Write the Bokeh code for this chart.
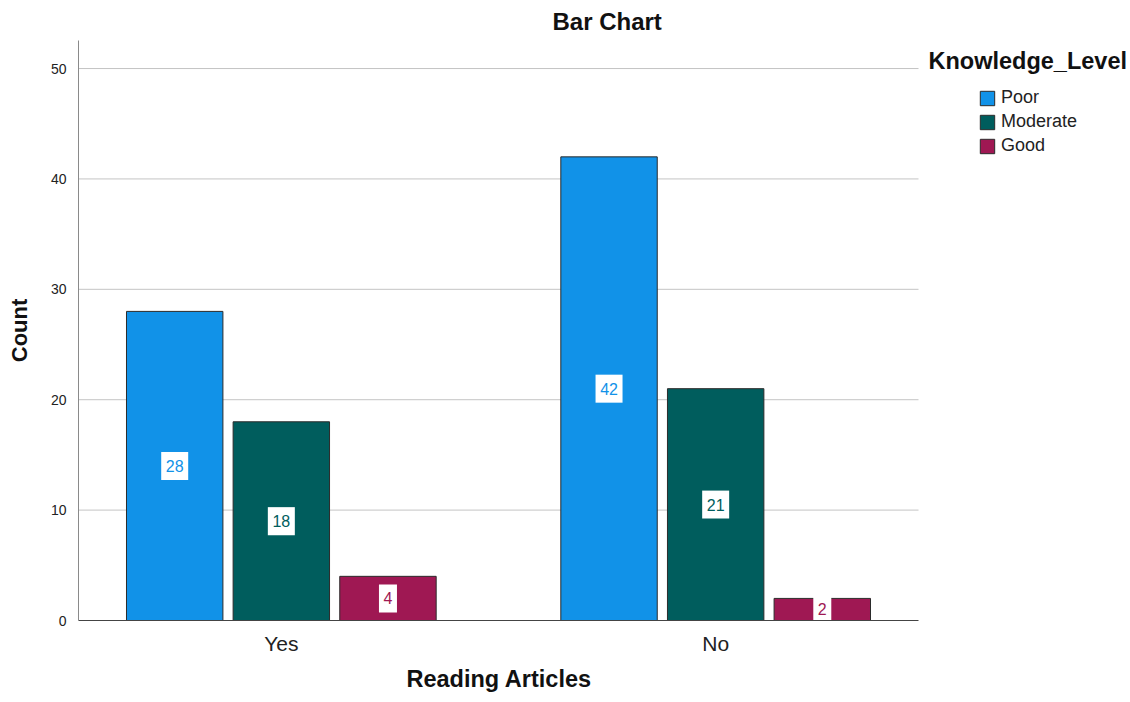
from bokeh.plotting import figure
from bokeh.models import (ColumnDataSource, Range1d, FixedTicker, Legend, LegendItem,
                          Label, Title)
from bokeh.core.properties import value
from bokeh.embed import file_html
from bokeh.resources import INLINE

# ---- data ----
categories = ["Yes", "No"]
levels = ["Poor", "Moderate", "Good"]
poor = [28, 42]
moderate = [18, 21]
good = [4, 2]
colors = ["#1192e8", "#005d5d", "#9f1853"]
y_ticks = [0, 10, 20, 30, 40, 50]
legend_title_text = "Knowledge_Level"

FONT = "Liberation Sans"

# plotting area for the bars: x in [-0.467, 1.467]; frame extends right to hold the legend
X0, X1 = -0.467, 1.467
PX_PER_UNIT = 840 / (X1 - X0)
FRAME_W = 1050
XR_END = X0 + FRAME_W / PX_PER_UNIT
Y_MAX = 52.54

p = figure(frame_width=FRAME_W, frame_height=580,
           min_border_left=78, min_border_top=0, min_border_right=0, min_border_bottom=30,
           output_backend="svg", toolbar_location=None,
           x_range=Range1d(X0, XR_END), y_range=Range1d(0, Y_MAX))
p.outline_line_color = None
p.background_fill_color = "white"

# grid lines restricted to the bar area
p.xgrid.grid_line_color = None
p.ygrid.grid_line_color = None
p.segment(x0=[X0] * (len(y_ticks) - 1), x1=[X1] * (len(y_ticks) - 1),
          y0=y_ticks[1:], y1=y_ticks[1:], line_color="#c4c4c4", line_width=1)

series = [poor, moderate, good]
offsets = [-0.2455, 0.0, 0.2455]
bar_w = 0.222
x_idx = list(range(len(categories)))

renderers = []
for lvl, vals, col, off in zip(levels, series, colors, offsets):
    xs = [i + off for i in x_idx]
    src = ColumnDataSource(dict(x=xs, top=vals, mid=[v / 2 for v in vals],
                                txt=[str(v) for v in vals],
                                bw=[9 + 9 * len(str(v)) for v in vals]))
    r = p.vbar(x="x", top="top", width=bar_w, source=src, fill_color=col,
               line_color="#2b2b2b", line_width=1)
    renderers.append((lvl, r))
    p.rect(x="x", y="mid", width="bw", height=28, width_units="screen",
           height_units="screen", source=src, fill_color="white", line_color=None)
    p.text(x="x", y="mid", text="txt", source=src, text_align="center",
           text_baseline="middle", text_color=col, text_font_size="16px",
           text_font=value(FONT))

# axes
p.xaxis.bounds = (X0, X1)
p.xaxis.ticker = FixedTicker(ticks=x_idx)
p.xaxis.major_label_overrides = {i: c for i, c in enumerate(categories)}
p.xaxis.major_label_text_font = FONT
p.xaxis.major_label_text_font_size = "21px"
p.xaxis.major_label_text_color = "#222222"
p.xaxis.major_tick_line_color = None
p.xaxis.minor_tick_line_color = None
p.xaxis.major_label_standoff = 5
p.xaxis.axis_line_color = "#444444"

p.yaxis.ticker = FixedTicker(ticks=y_ticks)
p.yaxis.major_label_text_font = FONT
p.yaxis.major_label_text_font_size = "14px"
p.yaxis.major_label_text_color = "#222222"
p.yaxis.major_tick_line_color = None
p.yaxis.minor_tick_line_color = None
p.yaxis.major_label_standoff = 6
p.yaxis.axis_line_color = "#8a8a8a"
p.yaxis.axis_label = "Count"
p.yaxis.axis_label_text_font = FONT
p.yaxis.axis_label_text_font_style = "bold"
p.yaxis.axis_label_text_font_size = "22px"
p.yaxis.axis_label_text_color = "#111111"
p.yaxis.axis_label_standoff = 16

# titles
p.title = Title(text="Bar Chart", align="left", offset=474, standoff=11,
                text_font=FONT, text_font_size="24px", text_font_style="bold",
                text_color="#111111")
p.add_layout(Title(text="Reading Articles", align="left", offset=328, standoff=13,
                   text_font=FONT, text_font_size="23.5px", text_font_style="bold",
                   text_color="#111111"), "below")

# legend (to the right of the bar area, inside the extended frame)
legend = Legend(items=[LegendItem(label=l, renderers=[r]) for l, r in renderers],
                location=(900, 464), orientation="vertical",
                glyph_width=18, glyph_height=18, label_standoff=5,
                label_text_font=FONT, label_text_font_size="18px",
                label_text_color="#222222", label_height=18,
                spacing=3, padding=0, margin=0,
                border_line_color=None, background_fill_alpha=0)
p.add_layout(legend, "center")

p.add_layout(Label(x=X1 + 10 / PX_PER_UNIT, y=50.7, text=legend_title_text,
                   text_font=FONT, text_font_size="23.5px", text_font_style="bold",
                   text_baseline="middle", text_align="left", text_color="#111111"))

open("out.html", "w").write(file_html(p, INLINE))
